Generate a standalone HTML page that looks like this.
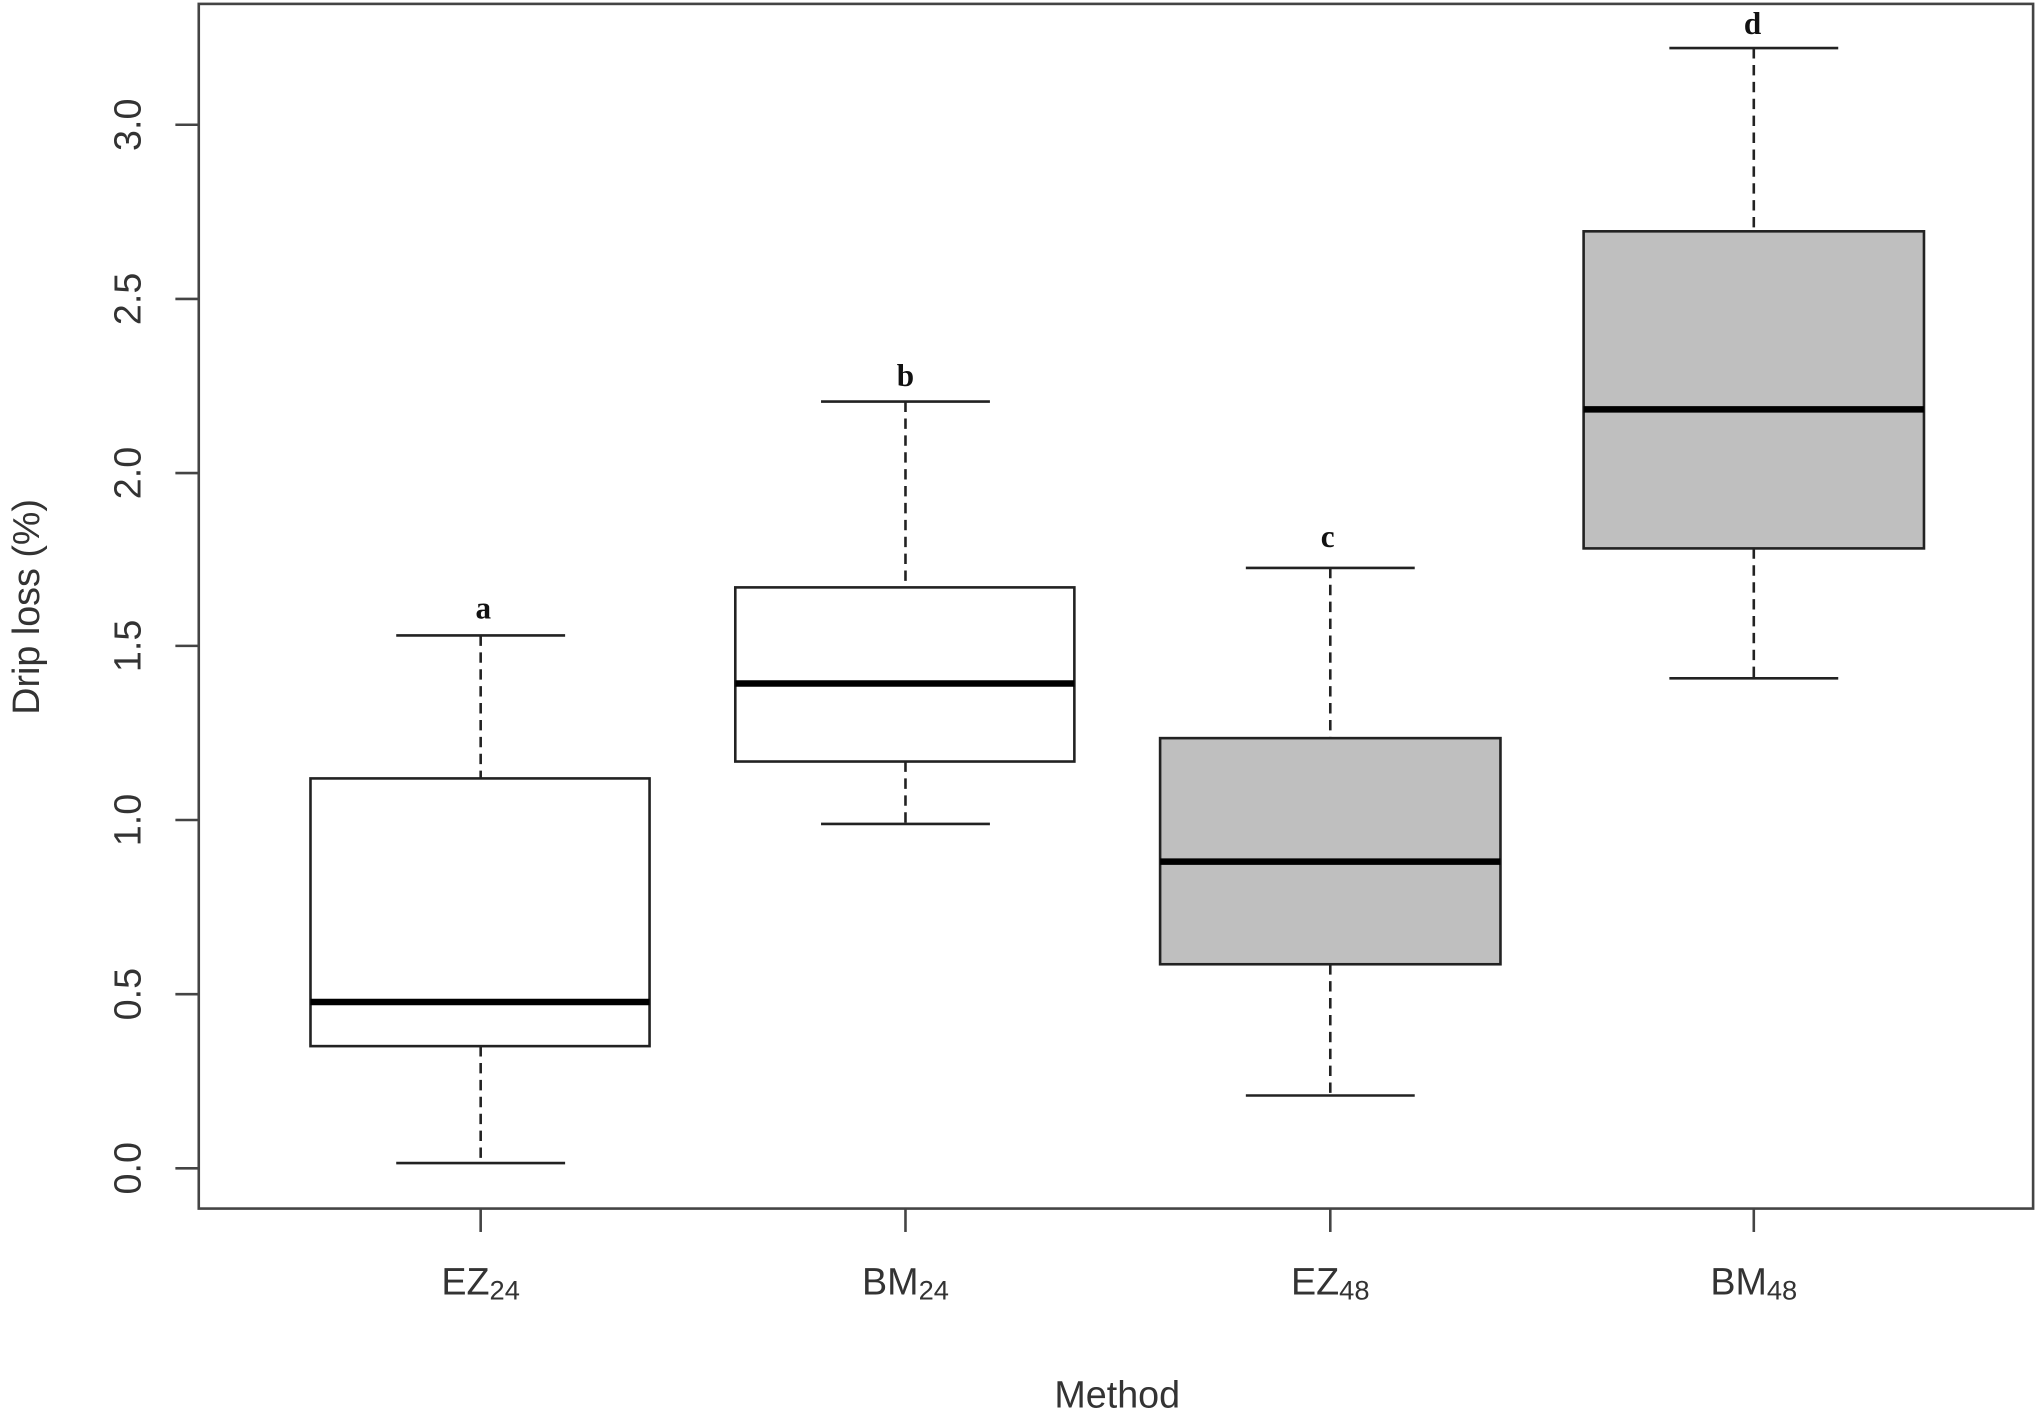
<!DOCTYPE html>
<html><head><meta charset="utf-8"><style>html,body{margin:0;padding:0;background:#fff}svg{display:block}</style></head>
<body>
<svg width="2037" height="1410" viewBox="0 0 1568 1085" preserveAspectRatio="none" xmlns="http://www.w3.org/2000/svg">
<rect width="1568" height="1085" fill="#fff"/>
<g font-family="Liberation Sans, sans-serif" fill="#222">
<rect x="153" y="3" width="1412" height="927" fill="none" stroke="#444" stroke-width="2"/>
<g stroke="#444" stroke-width="2">
<line x1="153" y1="899" x2="135" y2="899"/>
<line x1="153" y1="765" x2="135" y2="765"/>
<line x1="153" y1="631" x2="135" y2="631"/>
<line x1="153" y1="497" x2="135" y2="497"/>
<line x1="153" y1="364" x2="135" y2="364"/>
<line x1="153" y1="230" x2="135" y2="230"/>
<line x1="153" y1="96" x2="135" y2="96"/>
<line x1="370" y1="930" x2="370" y2="948"/>
<line x1="697" y1="930" x2="697" y2="948"/>
<line x1="1024" y1="930" x2="1024" y2="948"/>
<line x1="1350" y1="930" x2="1350" y2="948"/>
</g>
<g font-size="29" text-anchor="middle" fill="#333">
<text transform="translate(108,899) rotate(-90)">0.0</text>
<text transform="translate(108,765) rotate(-90)">0.5</text>
<text transform="translate(108,631) rotate(-90)">1.0</text>
<text transform="translate(108,497) rotate(-90)">1.5</text>
<text transform="translate(108,364) rotate(-90)">2.0</text>
<text transform="translate(108,230) rotate(-90)">2.5</text>
<text transform="translate(108,96) rotate(-90)">3.0</text>
<text transform="translate(30,467) rotate(-90)">Drip loss (%)</text>
<text x="860" y="1083">Method</text>
<text x="370" y="996">EZ<tspan font-size="21" dy="4">24</tspan></text>
<text x="697" y="996">BM<tspan font-size="21" dy="4">24</tspan></text>
<text x="1024" y="996">EZ<tspan font-size="21" dy="4">48</tspan></text>
<text x="1350" y="996">BM<tspan font-size="21" dy="4">48</tspan></text>
</g>
<g font-family="Liberation Serif, serif" font-weight="bold" font-size="24" text-anchor="middle" fill="#111">
<text x="372" y="476">a</text>
<text x="697" y="297">b</text>
<text x="1022" y="421">c</text>
<text x="1349" y="26">d</text>
</g>
<g stroke="#222" stroke-width="2">
<g stroke-dasharray="8,5">
<line x1="370" y1="489" x2="370" y2="599"/><line x1="370" y1="805" x2="370" y2="895"/>
<line x1="697" y1="309" x2="697" y2="452"/><line x1="697" y1="586" x2="697" y2="634"/>
<line x1="1024" y1="437" x2="1024" y2="568"/><line x1="1024" y1="742" x2="1024" y2="843"/>
<line x1="1350" y1="37" x2="1350" y2="178"/><line x1="1350" y1="422" x2="1350" y2="522"/>
</g>
<line x1="305" y1="489" x2="435" y2="489"/><line x1="305" y1="895" x2="435" y2="895"/>
<line x1="632" y1="309" x2="762" y2="309"/><line x1="632" y1="634" x2="762" y2="634"/>
<line x1="959" y1="437" x2="1089" y2="437"/><line x1="959" y1="843" x2="1089" y2="843"/>
<line x1="1285" y1="37" x2="1415" y2="37"/><line x1="1285" y1="522" x2="1415" y2="522"/>
<rect x="239" y="599" width="261" height="206" fill="#fff"/>
<rect x="566" y="452" width="261" height="134" fill="#fff"/>
<rect x="893" y="568" width="262" height="174" fill="#bfbfbf"/>
<rect x="1219" y="178" width="262" height="244" fill="#bfbfbf"/>
</g>
<g stroke="#000" stroke-width="5">
<line x1="239" y1="771" x2="500" y2="771"/>
<line x1="566" y1="526" x2="827" y2="526"/>
<line x1="893" y1="663" x2="1155" y2="663"/>
<line x1="1219" y1="315" x2="1481" y2="315"/>
</g>
</g>
</svg>
</body></html>
